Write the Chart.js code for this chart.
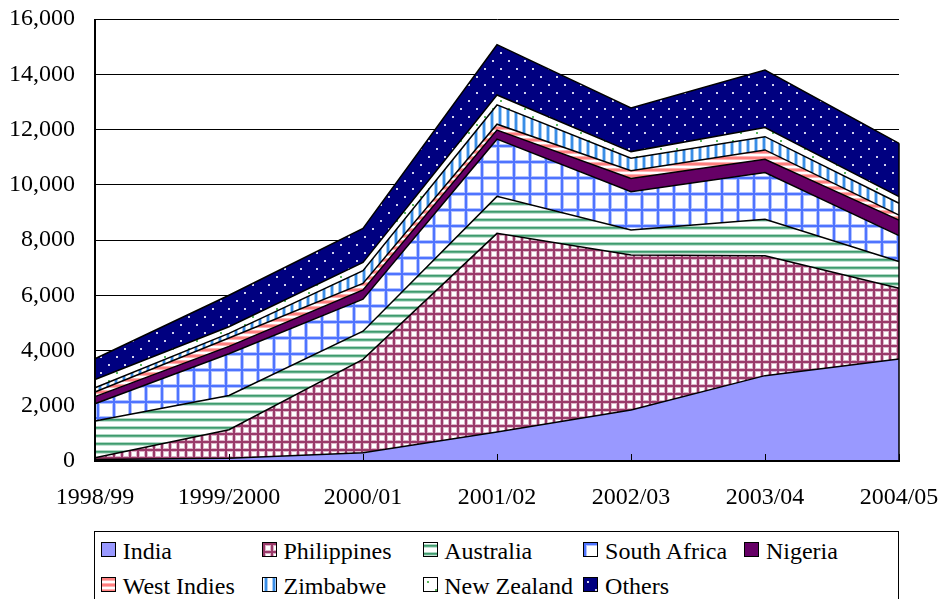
<!DOCTYPE html>
<html><head><meta charset="utf-8">
<script src="https://cdn.jsdelivr.net/npm/chart.js@4/dist/chart.umd.min.js"></script>
<style>
html,body{margin:0;padding:0;background:#fff;}
#wrap{position:relative;width:944px;height:599px;overflow:hidden;background:#fff;}
#c{position:absolute;left:0;top:0;}
#legend{position:absolute;left:94px;top:531px;width:805px;height:100px;border:1px solid #000;box-sizing:border-box;background:#fff;font-family:"Liberation Serif","Times New Roman",serif;font-size:24px;color:#000;}
.item{position:absolute;white-space:nowrap;}
.item canvas{position:absolute;left:0;top:0;}
.item span{position:absolute;left:21.7px;top:-3.5px;line-height:24px;}
</style>
</head><body>
<div id="wrap">
<canvas id="c" width="944" height="599"></canvas>
<div id="legend"></div>
</div>
<script>
const categories = ['1998/99','1999/2000','2000/01','2001/02','2002/03','2003/04','2004/05'];
const seriesNames = ['India','Philippines','Australia','South Africa','Nigeria','West Indies','Zimbabwe','New Zealand','Others'];
const india       = [50, 100, 300, 1050, 1850, 3090, 3690];
const philippines = [70, 1030, 3380, 7190, 5610, 4340, 2560];
const australia   = [1330, 1240, 1020, 1340, 900, 1320, 970];
const southAfrica = [620, 1510, 1160, 2070, 1390, 1690, 940];
const nigeria     = [260, 270, 330, 330, 480, 480, 560];
const westIndies  = [170, 300, 240, 210, 280, 340, 180];
const zimbabwe    = [150, 170, 460, 700, 450, 480, 430];
const newZealand  = [300, 240, 300, 360, 240, 330, 240];
const others      = [750, 1140, 1230, 1820, 1580, 2080, 1930];
const yTickValues = [0, 2000, 4000, 6000, 8000, 10000, 12000, 14000, 16000];

const seriesData = [india, philippines, australia, southAfrica, nigeria, westIndies, zimbabwe, newZealand, others];

// ---- fill patterns ----
function tile(w, h, draw){ const c=document.createElement('canvas'); c.width=w; c.height=h; const g=c.getContext('2d'); draw(g); return c; }
const scratch = document.createElement('canvas').getContext('2d');
function rect(g,col,x,y,w,h){ g.fillStyle=col; g.fillRect(x,y,w,h); }
const tiles = {
  India: tile(8,8,g=>rect(g,'#9999ff',0,0,8,8)),
  Philippines: tile(8,8,g=>{ rect(g,'#fff',0,0,8,8);
    rect(g,'#dcb3c7',0,0,8,1); rect(g,'#dcb3c7',0,3,8,1); rect(g,'#dcb3c7',0,0,1,8); rect(g,'#dcb3c7',3,0,1,8);
    rect(g,'#9a3a6a',0,1,8,2); rect(g,'#9a3a6a',1,0,2,8); }),
  Australia: tile(8,8,g=>{ rect(g,'#fff',0,0,8,8);
    rect(g,'#b0d8c4',0,2,8,1); rect(g,'#3f9a6d',0,3,8,1); rect(g,'#5fae88',0,4,8,1); rect(g,'#c4e2d3',0,5,8,1); }),
  'South Africa': tile(16,16,g=>{ rect(g,'#fff',0,0,16,16);
    rect(g,'#b3c4ff',0,0,16,4); rect(g,'#b3c4ff',0,0,4,16);
    rect(g,'#fff',4,4,12,12);
    rect(g,'#4f74ff',0,1,16,2); rect(g,'#4f74ff',1,0,2,16); }),
  Nigeria: tile(8,8,g=>rect(g,'#660066',0,0,8,8)),
  'West Indies': tile(6,6,g=>{ rect(g,'#fff',0,0,6,6);
    rect(g,'#ffb3b3',0,0,6,1); rect(g,'#ff7f7f',0,1,6,2); rect(g,'#ffb3b3',0,3,6,1); }),
  Zimbabwe: tile(8,8,g=>{ rect(g,'#fff',0,0,8,8);
    rect(g,'#a8cdf4',2,0,1,8); rect(g,'#3a8ee6',3,0,2,8); rect(g,'#a8cdf4',5,0,1,8); }),
  'New Zealand': tile(16,16,g=>{ rect(g,'#fff',0,0,16,16);
    rect(g,'#5cb85c',4,4,2,2); rect(g,'#5cb85c',12,12,2,2); }),
  Others: tile(16,16,g=>{ rect(g,'#000080',0,0,16,16);
    rect(g,'#d0d0ee',4,4,2,2); rect(g,'#d0d0ee',12,12,2,2); })
};
const patterns = {};
for (const k in tiles) patterns[k] = scratch.createPattern(tiles[k], 'repeat');

const datasets = seriesNames.map((name, i) => ({
  label: name,
  data: seriesData[i],
  backgroundColor: patterns[name],
  borderColor: '#000',
  borderWidth: 1.5,
  pointRadius: 0,
  pointHoverRadius: 0,
  tension: 0,
  fill: i === 0 ? 'origin' : '-1'
}));

const axisPlugin = {
  id: 'axisFix',
  afterDatasetsDraw(chart){
    const {ctx, chartArea: a, scales: {x, y}} = chart;
    ctx.save();
    ctx.strokeStyle = '#000';
    ctx.lineWidth = 1;
    ctx.beginPath();
    for (let i = 0; i < x.ticks.length; i++){
      const px = Math.round(x.getPixelForTick(i)) + 0.5;
      ctx.moveTo(px, a.bottom); ctx.lineTo(px, a.bottom - 7);
    }
    ctx.stroke();
    const last = categories.length - 1;
    let total = 0; seriesData.forEach(s => total += s[last]);
    ctx.lineWidth = 1.5;
    ctx.beginPath(); ctx.moveTo(a.right, y.getPixelForValue(total)); ctx.lineTo(a.right, a.bottom); ctx.stroke();
    ctx.lineWidth = 2;
    ctx.beginPath(); ctx.moveTo(a.left, a.top); ctx.lineTo(a.left, a.bottom); ctx.lineTo(a.right, a.bottom); ctx.stroke();
    ctx.restore();
  }
};

const FONT = '"Liberation Serif","Times New Roman",serif';
Chart.defaults.font.family = FONT;
Chart.defaults.font.size = 24;
Chart.defaults.color = '#000';

const options = {
  responsive: false,
  animation: false,
  devicePixelRatio: 1,
  layout: { padding: { left: 0, right: 45, top: 19, bottom: 78 } },
  plugins: { legend: { display: false }, tooltip: { enabled: false } },
  scales: {
    x: {
      offset: false,
      grid: { display: false, drawTicks: false },
      border: { display: true, color: '#000', width: 1 },
      ticks: { padding: 22, maxRotation: 0, autoSkip: false, font: { size: 24 } },
      afterFit(s){ s.height = 60; s.paddingLeft = 0; s.paddingRight = 0; }
    },
    y: {
      stacked: true,
      min: 0, max: 16000,
      afterBuildTicks(s){ s.ticks = yTickValues.map(v => ({ value: v })); },
      grid: { color: '#000', lineWidth: 1, drawTicks: false },
      border: { display: true, color: '#000', width: 1 },
      ticks: { padding: 20, font: { size: 24 }, callback: v => Number(v).toLocaleString('en-US') },
      afterFit(s){ s.width = 95; s.paddingTop = 0; s.paddingBottom = 0; }
    }
  }
};

const chart = new Chart(document.getElementById('c'), {
  type: 'line',
  data: { labels: categories, datasets },
  options,
  plugins: [axisPlugin]
});

// pin the plot area to the reference position
const target = { left: 95, top: 19, right: 899, bottom: 461 };
for (let k = 0; k < 2; k++){
  const a = chart.chartArea;
  if (Math.abs(a.top - target.top) < 0.5 && Math.abs(a.right - target.right) < 0.5 &&
      Math.abs(a.left - target.left) < 0.5 && Math.abs(a.bottom - target.bottom) < 0.5) break;
  const p = chart.config.options.layout.padding;
  chart.config.options.layout.padding = {
    top: p.top + (target.top - a.top),
    left: p.left + (target.left - a.left),
    right: p.right + (a.right - target.right),
    bottom: p.bottom + (a.bottom - target.bottom)
  };
  chart.update();
}

// ---- HTML legend ----
const legend = document.getElementById('legend');
seriesNames.forEach((name, i) => {
  const col = i % 5, row = Math.floor(i / 5);
  const item = document.createElement('div');
  item.className = 'item';
  item.style.left = (6 + col * 160.8) + 'px';
  item.style.top = (10.3 + row * 34.8) + 'px';
  const box = document.createElement('canvas');
  box.width = 15; box.height = 15;
  const g = box.getContext('2d');
  g.fillStyle = g.createPattern(tiles[name], 'repeat');
  g.fillRect(0, 0, 15, 15);
  g.strokeStyle = '#000'; g.lineWidth = 1;
  g.strokeRect(0.5, 0.5, 14, 14);
  const span = document.createElement('span');
  span.textContent = name;
  item.appendChild(box); item.appendChild(span);
  legend.appendChild(item);
});
</script>
</body></html>
